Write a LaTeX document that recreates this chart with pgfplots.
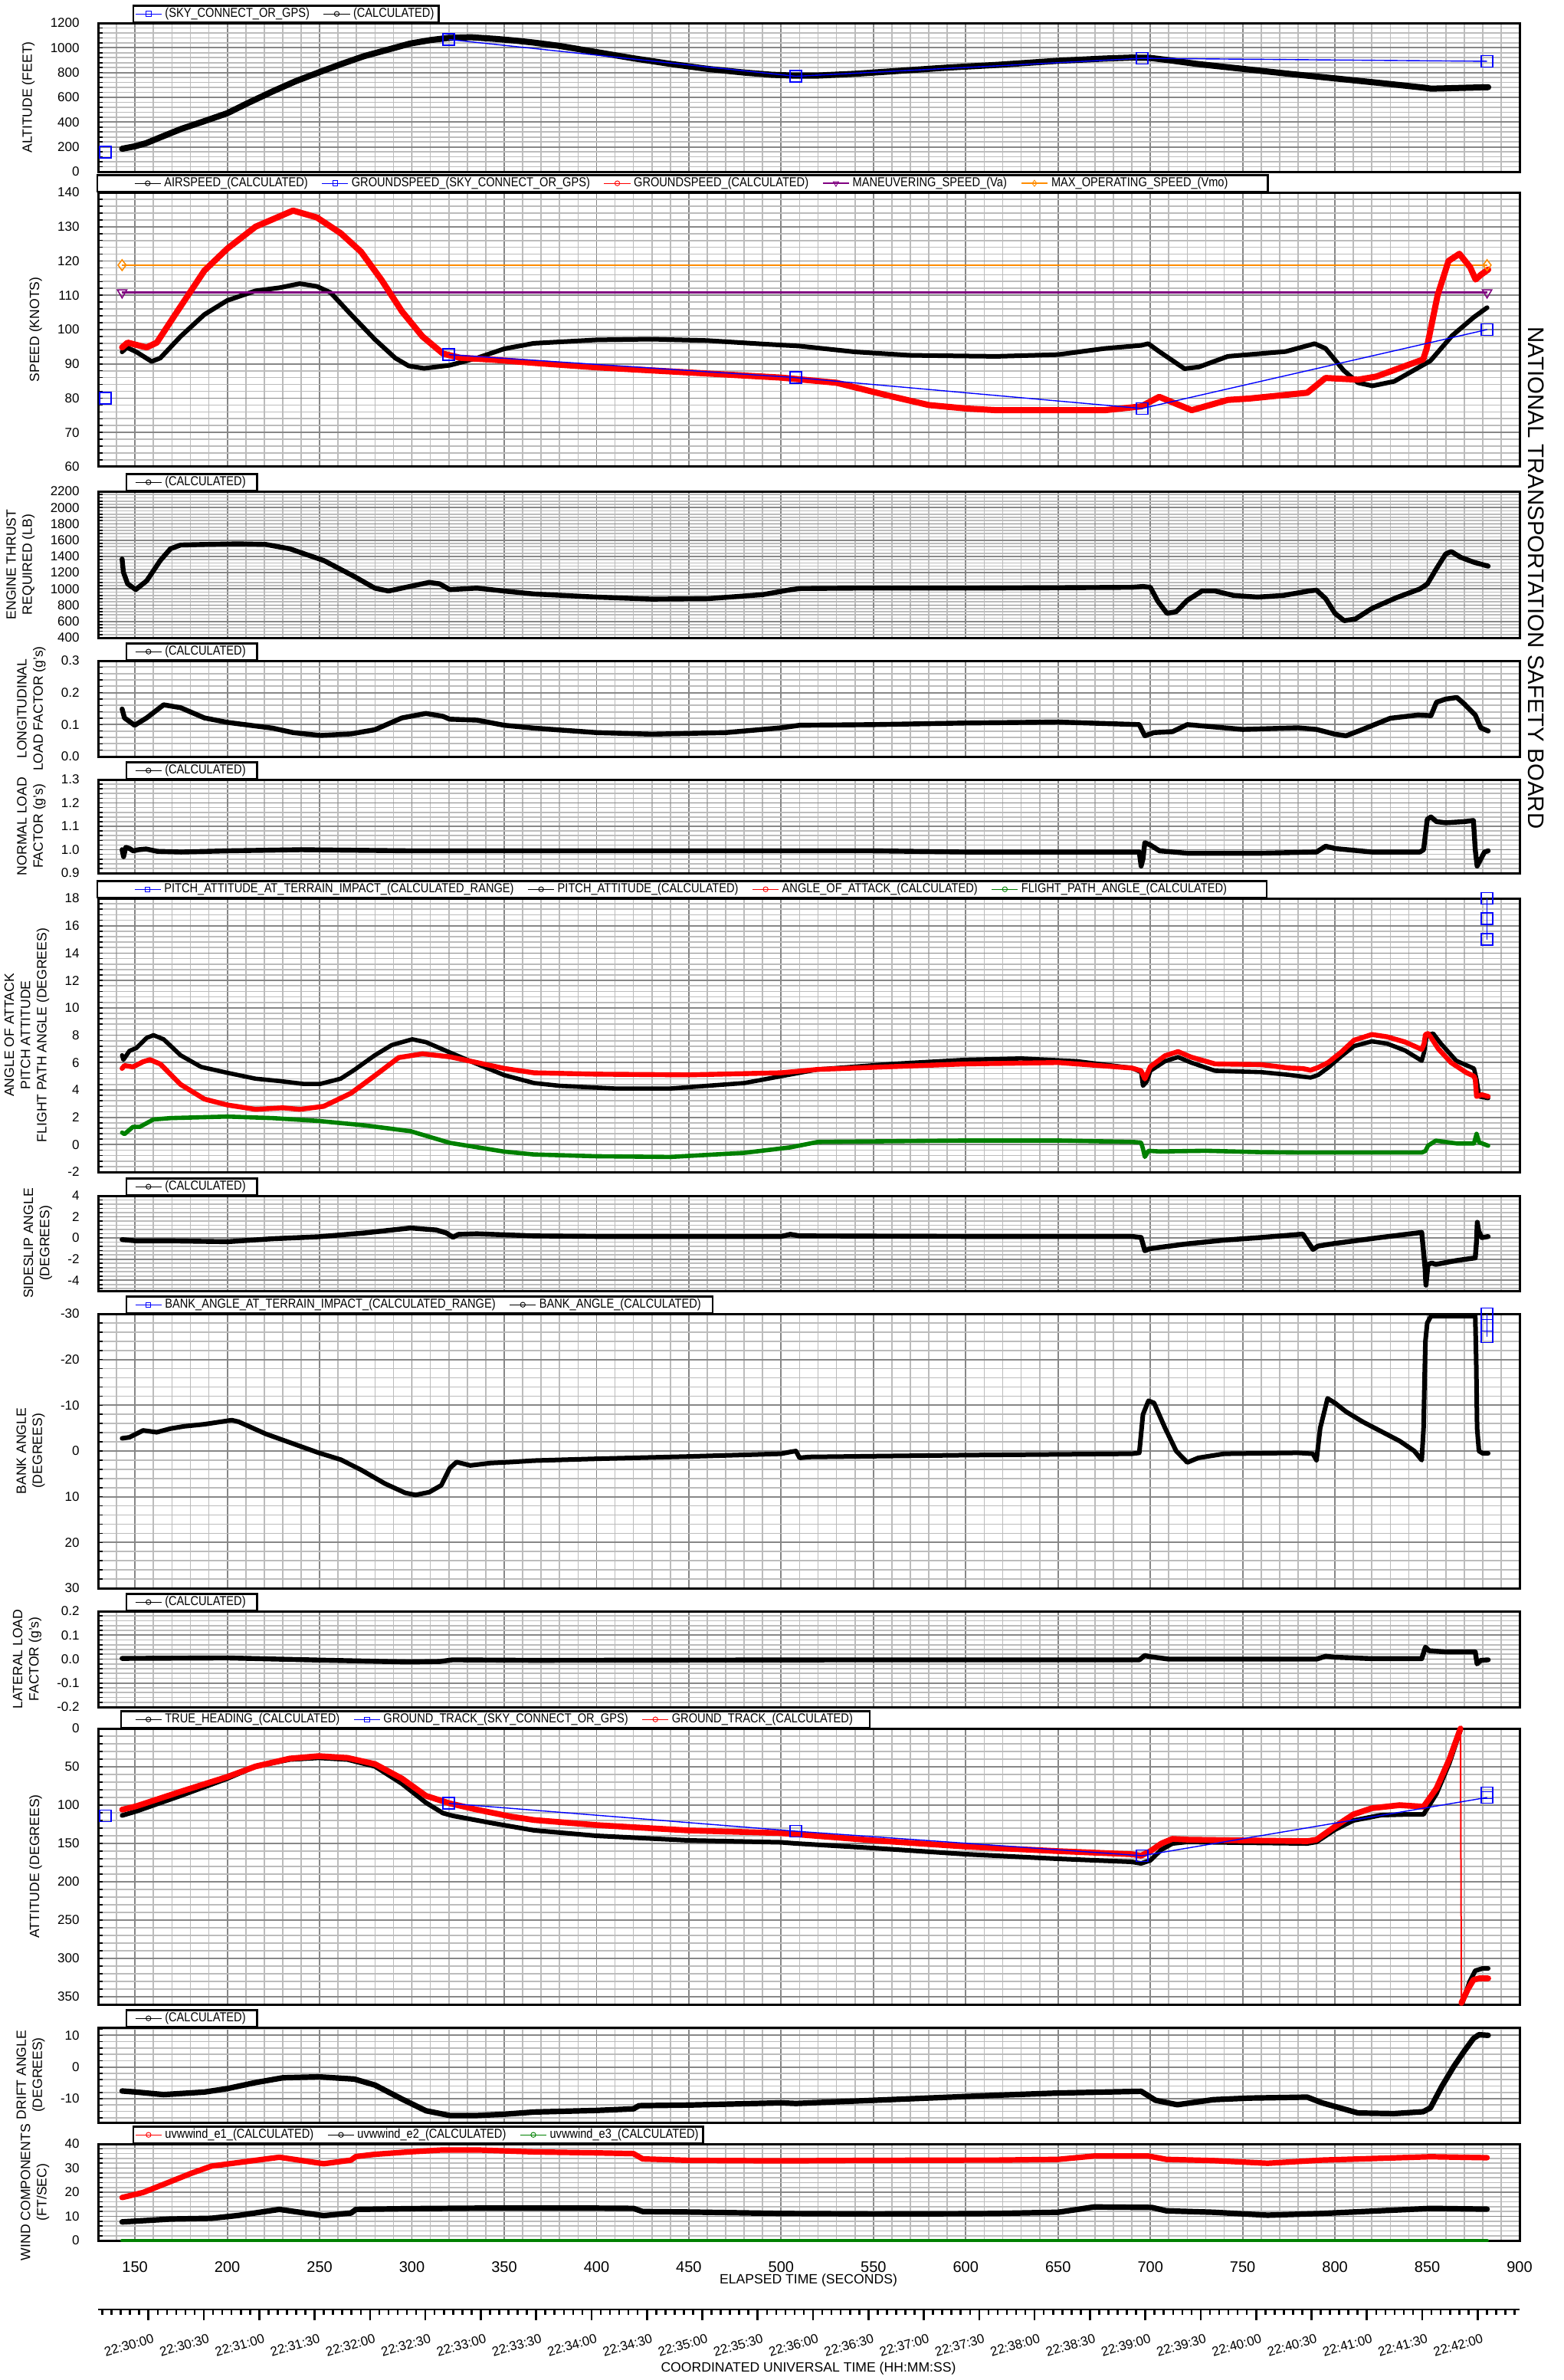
\documentclass[border=0pt]{standalone}
\usepackage{fontspec}
\setmainfont{Liberation Sans}
\newfontfamily\legfont[FakeStretch=0.86]{Liberation Sans}
\usepackage{pgfplots}
\pgfplotsset{compat=1.18}

\definecolor{majgrid}{RGB}{135,135,135}
\definecolor{mingrid}{RGB}{188,188,188}
\definecolor{gpsblue}{RGB}{0,0,255}
\definecolor{calcred}{RGB}{255,0,0}
\definecolor{calcgreen}{RGB}{0,128,0}
\definecolor{vmoorange}{RGB}{255,140,0}
\definecolor{vapurple}{RGB}{128,0,128}

\newcommand{\legsize}{\legfont\fontsize{8.5}{9}\selectfont}

\pgfplotsset{
  panel/.style={
    scale only axis, width=927.5pt, anchor=north west,
    xmin=130, xmax=900, clip=false,
    xtick={150,200,...,900}, minor xtick={130,140,...,900},
    xticklabels={}, xtick style={draw=none},
    minor y tick num=4,
    grid=both,
    major grid style={majgrid, line width=0.9pt},
    minor grid style={mingrid, line width=0.85pt},
    axis line style={black, line width=1.5pt},
    tick align=inside, ytick pos=left,
    ytick style={black, line width=0.8pt},
    major tick length=3pt, minor tick length=3pt,
    /pgf/number format/assume math mode=true,
    /pgf/number format/1000 sep={},
    yticklabel style={font=\fontsize{8.5}{10}\selectfont, anchor=east, inner sep=0pt, xshift=-12pt},
    ylabel style={font=\fontsize{8.8}{10.6}\selectfont, align=center, inner sep=0pt},
    ylabel shift=10pt,
    legend columns=-1, legend cell align=left,
    legend style={draw=black, line width=1.2pt, fill=white, font=\legsize,
      anchor=south west, inner ysep=0.5pt,
      nodes={inner ysep=1pt, inner xsep=2pt},
      /tikz/every even column/.append style={column sep=7pt}},
  },
  onedec/.style={yticklabel style={/pgf/number format/.cd, fixed, fixed zerofill, precision=1}},
  calc/.style={line width=3.2pt, line cap=round, line join=round},
  gps/.style={gpsblue, line width=0.7pt, mark=square, mark size=3.75pt, mark options={solid, line width=0.8pt}},
  legcalc/.style={line width=0.5pt, mark=o, mark size=1.6pt, mark options={fill=white, line width=0.45pt}},
  leggps/.style={gpsblue, line width=0.5pt, mark=square, mark size=1.6pt, mark options={line width=0.45pt}},
}

\begin{document}
\begin{tikzpicture}
\path[use as bounding box] (0pt,0pt) rectangle (1020pt,-1552.5pt);

% ---------------- altitude
\begin{axis}[panel, at={(64pt,-15pt)}, height=97pt,
  ymin=0, ymax=1200, ytick={0,200,...,1200},
  ylabel={ALTITUDE (FEET)},
  legend style={at={(0.0243,1)}, inner xsep=1pt}]
\addlegendimage{leggps}\addlegendentry{(SKY\_CONNECT\_OR\_GPS)}
\addlegendimage{legcalc, black}\addlegendentry{(CALCULATED)}
\addplot[calc, black, line width=4pt, forget plot] coordinates {
(143,185) (150,205) (156,230) (165,285) (175,345) (187,405) (200,472) (212,560)
(225,651) (237,730) (250,804) (262,870) (274,932) (287,985) (299,1034) (310,1062)
(320,1080) (332,1085) (345,1072) (356,1058) (366,1042) (380,1015) (400,965) (420,915)
(440,870) (460,830) (480,800) (495,782) (508,775) (520,776) (540,790) (560,810)
(590,840) (617,862) (650,895) (675,913) (690,921) (700,918) (710,900) (725,870)
(750,830) (775,790) (800,753) (825,715) (849,677) (852,670) (860,673) (870,677) (883,682)};
\addplot[gps, only marks, forget plot] coordinates {(134,158)};
\addplot[gps, forget plot] coordinates {(320,1067) (508,770) (695.5,915) (882.4,891)};
\end{axis}

% ---------------- speed
\begin{axis}[panel, at={(64pt,-125.5pt)}, height=179pt,
  ymin=60, ymax=140, ytick={60,70,...,140},
  ylabel={SPEED (KNOTS)},
  legend style={at={(-0.0011,1)}, inner xsep=24pt}]
\addlegendimage{legcalc, black}\addlegendentry{AIRSPEED\_(CALCULATED)}
\addlegendimage{leggps}\addlegendentry{GROUNDSPEED\_(SKY\_CONNECT\_OR\_GPS)}
\addlegendimage{legcalc, calcred}\addlegendentry{GROUNDSPEED\_(CALCULATED)}
\addlegendimage{vapurple, line width=0.7pt, mark=triangle, mark size=2pt, mark options={rotate=180, fill=white, line width=0.45pt}}\addlegendentry{MANEUVERING\_SPEED\_(Va)}
\addlegendimage{vmoorange, line width=1pt, mark=diamond, mark size=2pt, mark options={fill=white, line width=0.45pt}}\addlegendentry{MAX\_OPERATING\_SPEED\_(Vmo)}
\addplot[calc, black, line width=3pt, forget plot] coordinates {
(143,93.5) (145.6,94.8) (150.7,93.5) (159,90.7) (163.7,91.7) (174.7,98) (187.6,104.4)
(200,108.5) (215.3,111.3) (228.2,112.2) (239.3,113.4) (248.5,112.6) (255.9,110.8)
(267,104.4) (280,97.1) (291,91.7) (298.3,89.4) (306.6,88.7) (320.5,89.6) (335.2,91.7)
(350,94.4) (366,96) (400,97) (430,97.2) (460,96.8) (490,95.8) (510,95.2) (540,93.5)
(570,92.5) (600,92.3) (616.6,92.2) (650,92.7) (675.4,94.5) (695,95.4) (698.9,95.9)
(704.8,93.6) (718.5,88.6) (726.3,89.1) (742,92.2) (773.3,93.6) (789,95.9) (794.9,94.5)
(804.7,88.1) (812.5,84.5) (820.3,83.6) (832.1,84.9) (851.7,90.9) (863.4,98.2)
(875.2,103.6) (882.4,106.4)};
\addplot[vapurple, line width=1.2pt, mark=triangle, mark size=3.5pt, mark options={rotate=180, line width=0.8pt}, forget plot] coordinates {(143,110.8) (882.4,110.8)};
\addplot[vmoorange, line width=1.2pt, mark=diamond, mark size=3.5pt, mark options={line width=0.8pt}, forget plot] coordinates {(143,118.8) (882.4,118.8)};
\addplot[calc, calcred, line width=4pt, forget plot] coordinates {
(143,94.8) (146,96.2) (151,95.5) (156.3,94.8) (161.8,96.2) (172.9,105.3) (187.6,117.2)
(200,123.6) (215.3,130) (235.6,134.7) (248.5,132.7) (261.4,128.1) (272.4,122.7)
(283.5,114.5) (294.6,105.3) (305.7,98) (316.8,93) (326,91.8) (344.5,91.2) (366.2,90.3)
(400,89) (450,87.5) (500,86) (530,84.5) (560,80.5) (580,78) (600,77) (616.6,76.5)
(675.4,76.5) (695,77.6) (704.8,80.4) (722.4,76.5) (742,79.5) (753.7,79.9) (785,81.6)
(794.9,85.9) (812.5,85.4) (822.3,86.3) (847.8,91.3) (849.7,94.5) (855.6,110) (861.5,120)
(867.4,122.1) (873.2,118.2) (876.2,114.6) (879.1,116) (883,117.5)};
\addplot[gps, only marks, forget plot] coordinates {(134,80)};
\addplot[gps, forget plot] coordinates {(320,92.7) (508,86) (695.5,77) (882.4,100)};
\end{axis}

% ---------------- engine thrust
\begin{axis}[panel, at={(64pt,-320.5pt)}, height=95.5pt,
  ymin=400, ymax=2200, ytick={400,600,...,2200},
  ylabel={ENGINE THRUST\\REQUIRED (LB)},
  legend style={at={(0.0194,1)}, inner xsep=5.5pt}]
\addlegendimage{legcalc, black}\addlegendentry{(CALCULATED)}
\addplot[calc, black, forget plot] coordinates {
(143,1368) (143.7,1207) (146,1063) (150.4,992) (156.3,1099) (163.7,1350) (169.2,1494)
(174.7,1540) (187.6,1547) (206,1554) (220.8,1547) (233.8,1494) (252.2,1350) (268.8,1153)
(279.9,1010) (287.3,974) (298.3,1028) (309.4,1081) (315,1063) (320.5,992) (335.2,1010)
(350,974) (366.2,938) (400,900) (430,875) (460,880) (490,930) (505,990) (510,1005)
(540,1010) (600,1010) (650,1015) (690,1020) (696,1030) (700,1020) (704,850) (709,700)
(714,720) (720,860) (728,975) (735,975) (745,920) (758,900) (772,920) (786,975) (790,985)
(795,880) (800,700) (805,610) (811,630) (820,760) (833,890) (846,1000) (850,1060)
(855,1250) (860,1430) (863,1460) (868,1390) (875,1330) (883,1280)};
\end{axis}

% ---------------- longitudinal load factor
\begin{axis}[panel, onedec, at={(64pt,-431pt)}, height=62.5pt,
  ymin=0, ymax=0.3, ytick={0,0.1,0.2,0.3},
  ylabel={LONGITUDINAL\\LOAD FACTOR (g's)},
  legend style={at={(0.0194,1)}, inner xsep=5.5pt}]
\addlegendimage{legcalc, black}\addlegendentry{(CALCULATED)}
\addplot[calc, black, forget plot] coordinates {
(143,0.149) (144.3,0.121) (149.8,0.098) (156.3,0.121) (165.5,0.162) (174.7,0.153)
(187.6,0.121) (200,0.107) (224.5,0.089) (235.6,0.075) (250.4,0.066) (267,0.071)
(279.9,0.084) (294.6,0.121) (307.6,0.135) (316.8,0.126) (320.5,0.117) (335.2,0.114)
(350,0.098) (366.2,0.089) (400,0.075) (430,0.07) (470,0.075) (500,0.09) (510,0.098)
(550,0.1) (600,0.105) (650,0.108) (694,0.1) (697,0.065) (702,0.075) (712,0.078)
(720,0.1) (730,0.095) (750,0.085) (780,0.09) (790,0.085) (800,0.07) (806,0.065)
(815,0.085) (830,0.12) (845,0.13) (852,0.128) (855,0.17) (860,0.18) (866,0.185)
(870,0.165) (876,0.13) (879,0.09) (883,0.08)};
\end{axis}

% ---------------- normal load factor
\begin{axis}[panel, onedec, at={(64pt,-508.5pt)}, height=61pt,
  ymin=0.9, ymax=1.3, ytick={0.9,1,1.1,1.2,1.3},
  ylabel={NORMAL LOAD\\FACTOR (g's)},
  legend style={at={(0.0194,1)}, inner xsep=5.5pt}]
\addlegendimage{legcalc, black}\addlegendentry{(CALCULATED)}
\addplot[calc, black, forget plot] coordinates {
(143,1.0) (143.8,0.97) (145,1.01) (147,1.005) (149,0.995) (152,1.0) (156,1.003)
(162,0.993) (175,0.99) (200,0.995) (240,1.0) (300,0.995) (350,0.995) (400,0.995)
(450,0.995) (500,0.995) (550,0.995) (600,0.99) (650,0.99) (694,0.99) (695,0.93)
(696,0.96) (697,1.03) (700,1.02) (705,0.995) (720,0.985) (760,0.985) (790,0.99)
(795,1.015) (800,1.005) (820,0.99) (846,0.99) (848,1.0) (850,1.13) (852,1.14)
(855,1.12) (860,1.115) (870,1.12) (875,1.125) (876,1.0) (877,0.93) (879,0.96)
(881,0.99) (883,0.995)};
\end{axis}

% ---------------- angle of attack, pitch, flight path
\begin{axis}[panel, at={(64pt,-586pt)}, height=178.5pt,
  ymin=-2, ymax=18, ytick={-2,0,...,18},
  ylabel={ANGLE OF ATTACK\\PITCH ATTITUDE\\FLIGHT PATH ANGLE (DEGREES)},
  legend style={at={(-0.0011,1)}, inner xsep=24pt}]
\addlegendimage{leggps}\addlegendentry{PITCH\_ATTITUDE\_AT\_TERRAIN\_IMPACT\_(CALCULATED\_RANGE)}
\addlegendimage{legcalc, black}\addlegendentry{PITCH\_ATTITUDE\_(CALCULATED)}
\addlegendimage{legcalc, calcred}\addlegendentry{ANGLE\_OF\_ATTACK\_(CALCULATED)}
\addlegendimage{legcalc, calcgreen}\addlegendentry{FLIGHT\_PATH\_ANGLE\_(CALCULATED)}
\addplot[calc, black, line width=2.8pt, forget plot] coordinates {
(143,6.53) (143.7,6.2) (147,6.85) (150.7,7.06) (156.3,7.8) (160,8.0) (165.5,7.7)
(174.7,6.53) (185.8,5.68) (200,5.25) (215.3,4.82) (228.2,4.65) (241.1,4.44) (250.4,4.44)
(261.4,4.82) (268.8,5.46) (279.9,6.53) (289.1,7.28) (300.2,7.7) (307.6,7.49) (320.5,6.74)
(335.2,5.9) (350,5.08) (366.2,4.5) (380,4.3) (410,4.1) (440,4.1) (480,4.5) (500,5.0)
(520,5.5) (560,5.9) (600,6.2) (630,6.3) (660,6.1) (690,5.6) (695,5.3) (696,4.3)
(698,4.6) (700,5.4) (708,6.1) (715,6.4) (722,6.0) (735,5.4) (760,5.3) (775,5.1)
(782.6,4.97) (786.8,4.9) (790.9,5.09) (796.4,5.64) (803.4,6.46) (810.3,7.2) (820,7.55)
(828.3,7.38) (838,6.88) (847,6.13) (848.3,6.76) (849.7,8.0) (853.2,8.12) (857.4,7.38)
(865.7,6.13) (875.3,5.56) (876.7,4.77) (878.1,3.52) (883,3.4)};
\addplot[calc, calcred, line width=3.2pt, forget plot] coordinates {
(143,5.57) (144.3,5.78) (148.9,5.68) (154.4,6.06) (158.1,6.21) (163.7,5.89) (174.7,4.4)
(187.6,3.33) (200,2.9) (215.3,2.58) (230,2.69) (239.3,2.58) (252.2,2.8) (267,3.76)
(279.9,5.04) (292.8,6.36) (305.7,6.64) (320.5,6.42) (335.2,6.0) (350,5.57) (366.2,5.25)
(400,5.15) (450,5.1) (500,5.25) (520,5.5) (560,5.7) (600,5.9) (650,6.0) (690,5.6)
(695,5.4) (697,4.8) (700,5.7) (708,6.5) (715,6.8) (722,6.4) (735,5.9) (760,5.85)
(775,5.6) (782.6,5.56) (786.8,5.44) (790.9,5.64) (796.4,6.01) (803.4,6.76) (810.3,7.63)
(820,8.05) (828.3,7.88) (838,7.5) (847,6.96) (848.3,7.38) (849,8.05) (850.4,8.12)
(851.8,7.88) (856,7.0) (862.9,6.0) (871.2,5.26) (875.3,5.0) (876,4.76) (876.7,3.52)
(879.5,3.65) (883,3.52)};
\addplot[calc, calcgreen, line width=2.8pt, forget plot] coordinates {
(143,0.88) (144.3,0.77) (148.9,1.3) (152.6,1.3) (160,1.84) (169.2,1.94) (200,2.05)
(224.5,1.94) (249.5,1.73) (274.4,1.41) (299.3,0.98) (320.5,0.13) (335.2,-0.19)
(350,-0.51) (366.2,-0.72) (400,-0.85) (440,-0.9) (480,-0.6) (505,-0.2) (520,0.2)
(600,0.3) (650,0.3) (690,0.2) (695,0.15) (696,-0.3) (697,-0.9) (699,-0.45) (705,-0.5)
(730,-0.45) (760,-0.55) (782.6,-0.58) (817.2,-0.58) (847,-0.58) (849,-0.46)
(850.4,-0.08) (854.6,0.29) (865.7,0.09) (875.3,0.09) (876.7,0.79) (878.1,0.17) (883,-0.08)};
\addplot[gps, forget plot] coordinates {(882.3,18) (882.3,16.5) (882.3,15)};
\end{axis}

% ---------------- sideslip
\begin{axis}[panel, at={(64pt,-780pt)}, height=62pt,
  ymin=-5, ymax=4, ytick={-4,-2,...,4},
  minor y tick num=0, minor ytick={-4.8,-4.4,...,3.7},
  ylabel={SIDESLIP ANGLE\\(DEGREES)},
  legend style={at={(0.0194,1)}, inner xsep=5.5pt}]
\addlegendimage{legcalc, black}\addlegendentry{(CALCULATED)}
\addplot[calc, black, forget plot] coordinates {
(143,-0.15) (150.7,-0.27) (169.2,-0.27) (200,-0.35) (224.5,-0.07) (249.5,0.12)
(274.4,0.48) (299.3,0.95) (313.2,0.76) (318.6,0.48) (322.3,0.07) (325.1,0.34)
(335.2,0.4) (366.2,0.2) (400,0.15) (500,0.15) (505,0.35) (510,0.2) (600,0.15)
(690,0.15) (695,0.05) (697,-1.2) (700,-1.0) (720,-0.55) (740,-0.2) (760,0.05)
(782.6,0.37) (788.1,-1.08) (790.9,-0.76) (799.2,-0.53) (824.1,0.04) (847,0.53)
(847.6,-0.6) (848.8,-2.85) (849.3,-4.46) (850.4,-2.5) (852.5,-2.37) (854.6,-2.5)
(865.6,-2.14) (876,-1.88) (876.7,-0.28) (877.1,1.49) (877.8,0.69) (879.5,0.04) (883,0.14)};
\end{axis}

% ---------------- bank angle
\begin{axis}[panel, at={(64pt,-857pt)}, height=179pt,
  ymin=-30, ymax=30, ytick={-30,-20,...,30}, y dir=reverse,
  ylabel={BANK ANGLE\\(DEGREES)},
  legend style={at={(0.0194,1)}, inner xsep=5.5pt}]
\addlegendimage{leggps}\addlegendentry{BANK\_ANGLE\_AT\_TERRAIN\_IMPACT\_(CALCULATED\_RANGE)}
\addlegendimage{legcalc, black}\addlegendentry{BANK\_ANGLE\_(CALCULATED)}
\addplot[calc, black, line width=3pt, forget plot] coordinates {
(143,-2.77) (147,-3.0) (154.4,-4.5) (161.8,-4.1) (169.2,-4.9) (176.6,-5.4) (187.6,-5.85)
(202.4,-6.75) (206.1,-6.4) (220.8,-3.75) (237.4,-1.35) (249.4,0.38) (261.4,1.88)
(272.5,4.13) (285.4,7.13) (296.4,9.16) (302,9.61) (309.4,9.0) (315.9,7.5) (320.5,3.76)
(324.2,2.41) (331.6,3.16) (342.6,2.63) (353.7,2.41) (366.2,2.1) (400,1.7) (450,1.2)
(500,0.6) (505,0.2) (508,0.0) (510,1.5) (515,1.3) (600,0.9) (690,0.6) (694,0.4)
(696,-8) (699,-11) (702,-10.5) (708,-5) (714,0) (720,2.5) (726,1.5) (740,0.6)
(780,0.4) (788,0.6) (790,2.0) (792,-5) (796,-11.5) (800,-10.5) (806,-8.6) (815,-6.4)
(825,-4.3) (835,-2.2) (843,0) (847,2) (848,-5) (848.5,-15) (849,-24) (850,-28)
(852,-29.5) (876,-29.5) (876.5,-20) (877,-5) (878,0) (880,0.5) (883,0.5)};
\addplot[gps, forget plot] coordinates {(882.3,-30) (882.3,-27.5) (882.3,-25)};
\end{axis}

% ---------------- lateral load factor
\begin{axis}[panel, onedec, at={(64pt,-1051pt)}, height=62.5pt,
  ymin=-0.2, ymax=0.2, ytick={-0.2,-0.1,0,0.1,0.2},
  ylabel={LATERAL LOAD\\FACTOR (g's)},
  legend style={at={(0.0194,1)}, inner xsep=5.5pt}]
\addlegendimage{legcalc, black}\addlegendentry{(CALCULATED)}
\addplot[calc, black, forget plot] coordinates {
(143,0.003) (200,0.005) (250,-0.004) (298,-0.012) (315,-0.01) (322,-0.003)
(366,-0.005) (450,-0.004) (550,-0.003) (650,-0.003) (694,-0.003) (697,0.015)
(700,0.01) (710,0.0) (790,0.0) (795,0.012) (800,0.008) (820,0.002) (847,0.002)
(849,0.05) (851,0.035) (860,0.03) (876,0.03) (877,-0.02) (879,-0.005) (883,-0.003)};
\end{axis}

% ---------------- heading / track
\begin{axis}[panel, at={(64pt,-1127.5pt)}, height=180pt,
  ymin=0, ymax=360, ytick={0,50,...,350}, y dir=reverse,
  minor y tick num=0, minor ytick={10,20,...,360},
  ylabel={ATTITUDE (DEGREES)},
  legend style={at={(0.0156,1)}, inner xsep=9pt}]
\addlegendimage{legcalc, black}\addlegendentry{TRUE\_HEADING\_(CALCULATED)}
\addlegendimage{leggps}\addlegendentry{GROUND\_TRACK\_(SKY\_CONNECT\_OR\_GPS)}
\addlegendimage{legcalc, calcred}\addlegendentry{GROUND\_TRACK\_(CALCULATED)}
\addplot[calc, black, line width=3pt, forget plot] coordinates {
(143,113.5) (150.7,108) (174.7,87.8) (200,65.3) (215.3,49.5) (233.8,40.5) (249.5,38.3)
(265.1,40.5) (280,49.5) (294.6,72) (307.6,96.8) (316.8,110.4) (322.3,114) (344.5,123.9)
(366.2,132.9) (400,140) (450,146) (500,148.5) (508,150) (550,156) (600,164) (650,170)
(690,174) (695,176) (700,172) (706,158) (712,150) (720,148) (750,149) (785,150)
(790,148) (800,132) (810,120) (825,113) (840,112) (848,112) (855,85) (862,45) (868,2)};
\addplot[calc, black, line width=3pt, forget plot] coordinates {
(869,358) (873,330) (876,316) (880,313) (883,313)};
\addplot[calc, calcred, line width=3.8pt, forget plot] coordinates {
(143,105.9) (150.7,101.4) (174.7,82.4) (200,63.1) (215.3,49.5) (233.8,39.2) (249.5,36)
(265.1,38.3) (280,46.4) (294.6,65.3) (307.6,87.8) (320.5,97.7) (335.2,105.9)
(353.7,114.9) (366.2,119.4) (400,126) (450,133) (500,136.5) (508,138) (550,146)
(600,154) (650,160) (690,164) (695,166) (700,160) (706,150) (712,144) (720,145)
(750,146) (785,147) (790,145) (800,128) (810,112) (820,104) (835,100) (848,102)
(855,78) (862,40) (868,0)};
\addplot[calcred, line width=1pt, forget plot] coordinates {(868,0) (868.5,360)};
\addplot[calc, calcred, line width=3.8pt, forget plot] coordinates {
(868.5,358) (872,340) (875,328) (878,326) (883,326)};
\addplot[gps, only marks, forget plot] coordinates {(134,114)};
\addplot[gps, forget plot] coordinates {(320,97.7) (508,134) (695.5,166) (882.4,90)};
\addplot[gps, only marks, forget plot] coordinates {(882.4,84)};
\end{axis}

% ---------------- drift angle
\begin{axis}[panel, at={(64pt,-1322.5pt)}, height=62pt,
  ymin=-17.5, ymax=12.5, ytick={-10,0,10},
  minor y tick num=0, minor ytick={-16,-14,...,12},
  ylabel={DRIFT ANGLE\\(DEGREES)},
  legend style={at={(0.0194,1)}, inner xsep=5.5pt}]
\addlegendimage{legcalc, black}\addlegendentry{(CALCULATED)}
\addplot[calc, black, line width=3.6pt, forget plot] coordinates {
(143,-7.56) (150.7,-7.9) (165.5,-8.7) (187.6,-7.9) (200,-6.8) (215.3,-4.9) (230,-3.4)
(249.5,-3.1) (268.8,-3.8) (280,-5.7) (294.6,-10.1) (307.6,-13.8) (320.5,-15.3)
(335.2,-15.3) (350,-14.9) (366.2,-14.2) (400,-13.7) (420,-13.2) (423,-12.2) (450,-12.0)
(500,-11.3) (508,-11.5) (550,-10.5) (600,-9.3) (616.6,-8.9) (650,-8.2) (675.4,-7.9)
(695,-7.65) (702.8,-10.5) (714.6,-11.9) (734.1,-10.3) (753.7,-9.8) (785,-9.5)
(793,-11.3) (812.5,-14.5) (832,-14.7) (847.8,-14.1) (851.7,-12.9) (858,-6) (864.4,0.2)
(870,5) (875,9) (878,10.2) (883,10)};
\end{axis}

% ---------------- wind components
\begin{axis}[panel, at={(64pt,-1398.5pt)}, height=63pt,
  ymin=0, ymax=40, ytick={0,10,...,40},
  ylabel={WIND COMPONENTS\\(FT/SEC)},
  xticklabels={150,200,250,300,350,400,450,500,550,600,650,700,750,800,850,900},
  xticklabel style={font=\fontsize{10}{12}\selectfont, anchor=north, inner sep=0pt, yshift=-13.5pt},
  legend style={at={(0.0243,1)}, inner xsep=1pt}]
\addlegendimage{legcalc, calcred}\addlegendentry{uvwwind\_e1\_(CALCULATED)}
\addlegendimage{legcalc, black}\addlegendentry{uvwwind\_e2\_(CALCULATED)}
\addlegendimage{legcalc, calcgreen}\addlegendentry{uvwwind\_e3\_(CALCULATED)}
\addplot[calc, calcred, line width=3.6pt, forget plot] coordinates {
(143,17.8) (154.4,19.9) (169.2,24.4) (180.3,27.8) (191.3,30.8) (206.1,32.3) (228.2,34.5)
(252.2,31.8) (267,33.3) (269.7,34.8) (279.9,35.7) (298.3,36.7) (316.8,37.5) (335.2,37.5)
(366.2,36.7) (400,36.3) (420,36) (425,33.8) (450,33.2) (500,33) (550,33.2) (600,33.3)
(616.6,33.3) (650,33.6) (669.5,35) (698.9,35) (708.7,33.6) (734.1,33.1) (763.5,32)
(792.9,33.3) (851.7,34.7) (882.4,34.3)};
\addplot[calc, black, line width=3.6pt, forget plot] coordinates {
(143,7.7) (169.2,8.9) (191.3,9.2) (206.1,10.4) (228.2,12.9) (252.2,10.3) (267,11.4)
(269.7,12.9) (298.3,13.2) (335.2,13.4) (366.2,13.4) (400,13.4) (420,13.3) (425,12)
(450,11.8) (500,11.2) (550,11) (600,11.1) (616.6,11.2) (650,11.7) (669.5,13.9)
(700.8,13.7) (708.7,12.3) (734.1,11.7) (763.5,10.5) (792.9,11.2) (851.7,13.3) (882.4,13)};
\addplot[calc, calcgreen, line width=2.4pt, forget plot] coordinates {(143,0) (882.4,0)};
\end{axis}

% ---------------- clock time scale
\begin{axis}[
  at={(64pt,-1506.5pt)}, anchor=south west,
  scale only axis, width=927.5pt, height=10pt,
  xmin=130, xmax=900, ymin=0, ymax=1,
  axis x line*=bottom, hide y axis,
  axis line style={black, line width=1.3pt},
  tick align=outside,
  xtick={157.3,187.3,...,877.3},
  minor xtick={132.3,137.3,...,897.3},
  major tick length=7pt, minor tick length=3.5pt,
  xtick style={black, line width=1.3pt},
  xticklabels={22:30:00,22:30:30,22:31:00,22:31:30,22:32:00,22:32:30,22:33:00,22:33:30,22:34:00,22:34:30,22:35:00,22:35:30,22:36:00,22:36:30,22:37:00,22:37:30,22:38:00,22:38:30,22:39:00,22:39:30,22:40:00,22:40:30,22:41:00,22:41:30,22:42:00},
  xticklabel style={rotate=16, anchor=north east, inner sep=0pt, font=\fontsize{8.5}{10}\selectfont, yshift=-9pt},
]
\addplot[draw=none] coordinates {(130,0.5)};
\end{axis}

\node[font=\fontsize{8.8}{10}\selectfont] at (527.5pt,-1487.5pt) {ELAPSED TIME (SECONDS)};
\node[font=\fontsize{8.8}{10}\selectfont] at (527.5pt,-1545pt) {COORDINATED UNIVERSAL TIME (HH:MM:SS)};
\node[rotate=-90, font=\fontsize{14.7}{16}\selectfont] at (1002.5pt,-377pt) {NATIONAL TRANSPORTATION SAFETY BOARD};
\end{tikzpicture}
\end{document}
